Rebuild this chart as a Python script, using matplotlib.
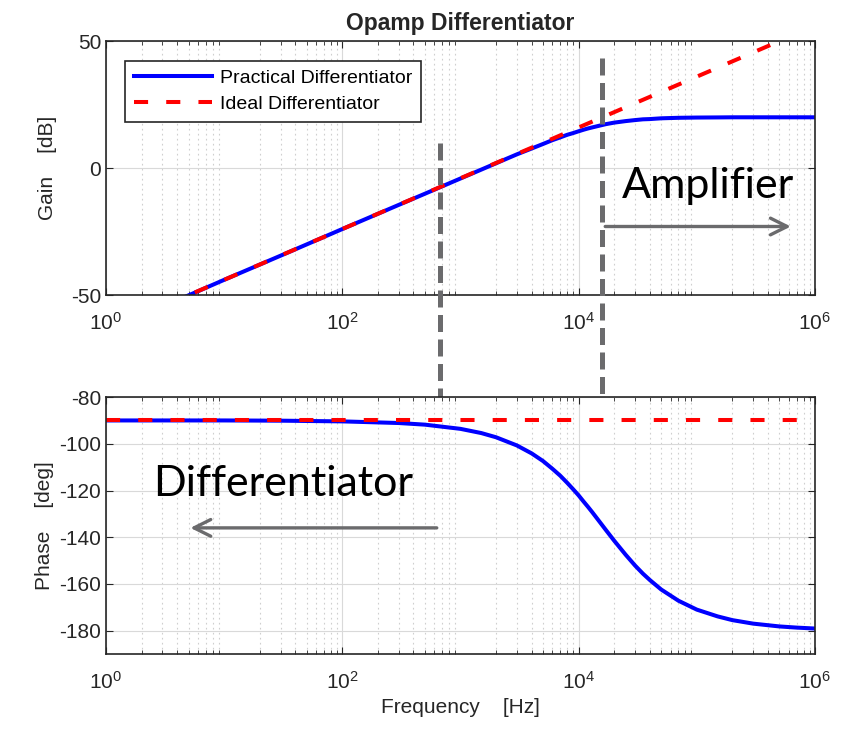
import matplotlib.pyplot as plt
import matplotlib.transforms as mtransforms

plt.rcParams['axes.unicode_minus'] = False

# values
freq = [1, 5, 10, 30, 100, 300, 500, 1000, 1500, 2000, 3000, 4000, 5000,
        6000, 7000, 8000, 9000, 10000, 11000, 12000, 13000, 15000, 17000,
        20000, 25000, 30000, 35000, 40000, 50000, 70000, 100000, 150000,
        200000, 300000, 500000, 700000, 1000000]
gain_practical = [-64.0, -50.1, -44.0, -34.5, -24.0, -14.5, -10.1, -4.1,
                  -0.6, 1.9, 5.4, 7.7, 9.5, 11.0, 12.1, 13.1, 13.8, 14.5,
                  15.1, 15.6, 16.0, 16.7, 17.3, 17.9, 18.5, 18.9, 19.2,
                  19.3, 19.6, 19.8, 19.9, 19.95, 20.0, 20.0, 20.0, 20.0, 20.0]
phase_practical = [-90.0, -90.0, -90.0, -90.1, -90.4, -91.1, -91.8, -93.6,
                   -95.4, -97.2, -100.7, -104.1, -107.4, -110.7, -113.7,
                   -116.7, -119.5, -122.1, -124.7, -127.0, -129.2, -133.3,
                   -136.9, -141.5, -147.5, -152.1, -155.6, -158.3, -162.4,
                   -167.2, -171.0, -173.9, -175.5, -177.0, -178.2, -178.7,
                   -179.1]
freq_ideal = [1, 1000000]
gain_ideal = [-64.0, 56.0]
phase_ideal = [-90, -90]

f_diff = 665      # left marker line
f_amp = 15900     # corner frequency marker

fig = plt.figure(figsize=(8.46, 7.34), dpi=100)
ax1 = fig.add_axes([0.1253, 0.598, 0.838, 0.346])
ax2 = fig.add_axes([0.1253, 0.109, 0.838, 0.350])

txt = '#262626'
font = 'Liberation Sans'
for ax in (ax1, ax2):
    ax.set_xscale('log')
    ax.set_xlim(1, 1e6)
    ax.set_xticks([1, 1e2, 1e4, 1e6])
    ax.grid(True, which='major', color='#d9d9d9', lw=0.8)
    ax.grid(True, which='minor', color='#cfcfcf', lw=0.8, ls=(0, (1.5, 3)))
    ax.tick_params(which='both', direction='in', top=True, right=True,
                   colors=txt, labelsize=15, length=5)
    ax.tick_params(axis='x', pad=12)
    ax.tick_params(which='minor', length=3)
    for s in ax.spines.values():
        s.set_color('#262626')
        s.set_linewidth(1.2)
    for lab in ax.get_xticklabels() + ax.get_yticklabels():
        lab.set_family(font)

ax1.plot(freq, gain_practical, color='#0000ff', lw=2.9,
         label='Practical Differentiator')
ax1.plot(freq_ideal, gain_ideal, color='#ff0000', lw=2.9, dashes=(3.5, 4.5),
         label='Ideal Differentiator')
ax1.set_ylim(-50, 50)
ax1.set_yticks([-50, 0, 50])
ax1.set_ylabel('Gain    [dB]', fontsize=15, color=txt, family=font, labelpad=10)
ax1.set_title('Opamp Differentiator', fontsize=16.5, fontweight='bold',
              color=txt, family=font, pad=8)
leg = ax1.legend(loc='upper left', fancybox=False,
                 edgecolor='#262626', framealpha=1, borderaxespad=1.0,
                 handlelength=4.0, borderpad=0.45, labelspacing=0.45,
                 handletextpad=0.4, prop={'family': font, 'size': 14})
leg.get_frame().set_linewidth(1.2)

ax2.plot(freq, phase_practical, color='#0000ff', lw=2.9)
ax2.plot(freq_ideal, phase_ideal, color='#ff0000', lw=2.9, dashes=(3.5, 4.5))
ax2.set_ylim(-190, -80)
ax2.set_yticks([-180, -160, -140, -120, -100, -80])
ax2.set_ylabel('Phase    [deg]', fontsize=15, color=txt, family=font, labelpad=4)
ax2.set_xlabel('Frequency    [Hz]', fontsize=15, color=txt, family=font,
               labelpad=4)

# vertical dashed markers spanning both axes
tr = mtransforms.blended_transform_factory(ax1.transData, fig.transFigure)
gray = '#6b6b6d'
ax1.plot([f_diff, f_diff], [1 - 143 / 734, 1 - 617 / 734], transform=tr,
         color=gray, lw=3.6, dashes=(3.4, 1.5), clip_on=False, zorder=5)
ax1.plot([f_amp, f_amp], [1 - 58 / 734, 1 - 617 / 734], transform=tr,
         color=gray, lw=3.6, dashes=(3.4, 1.5), clip_on=False, zorder=5)

# annotations
ax1.annotate('', xy=(6.6e5, -23), xytext=(f_amp, -23),
             arrowprops=dict(arrowstyle='->', color=gray, lw=2.4,
                             mutation_scale=30))
ax1.text(1.24e5, -7, 'Amplifier', fontsize=31, family='Lato',
         ha='center', va='center', color='black')
ax2.annotate('', xy=(4.9, -136), xytext=(f_diff, -136),
             arrowprops=dict(arrowstyle='->', color=gray, lw=2.4,
                             mutation_scale=30))
ax2.text(31.6, -117, 'Differentiator', fontsize=31, family='Lato',
         ha='center', va='center', color='black')

fig.savefig('out.png', dpi=100)
